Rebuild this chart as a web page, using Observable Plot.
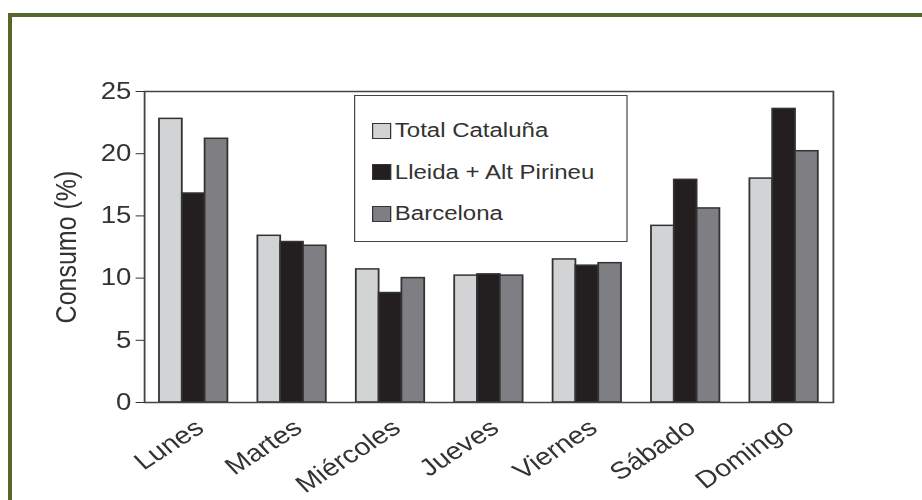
<!DOCTYPE html>
<html>
<head>
<meta charset="utf-8">
<script src="https://cdn.jsdelivr.net/npm/d3@7"></script>
<script src="https://cdn.jsdelivr.net/npm/@observablehq/plot@0.6"></script>
<style>
  html, body { margin: 0; padding: 0; background: #fff; }
  #wrap { position: relative; width: 922px; height: 500px; overflow: hidden; background: #fff; font-family: "Liberation Sans", Arial, sans-serif; }
  #frame { position: absolute; left: 8px; top: 13px; width: 940px; height: 520px; border-left: 4px solid #55672a; border-top: 4px solid #55672a; box-sizing: border-box; }
  /* the source figure is stretched horizontally; reproduce that with a uniform x scale */
  #stretch { position: absolute; left: 0; top: 0; width: 768px; height: 500px; transform: scaleX(1.2); transform-origin: 0 0; }
  #chart { position: absolute; left: 0; top: 0; }
  #legend { position: absolute; left: 295px; top: 95px; width: 228px; height: 147px; border: 1.5px solid #444; background: #fff; box-sizing: border-box; padding-top: 14px; padding-left: 14px; }
  .item { display: flex; align-items: center; height: 41.5px; font-size: 20px; color: #333; }
  .sw { width: 16px; height: 16px; border: 1.5px solid #333; box-sizing: border-box; margin-right: 3px; }
</style>
</head>
<body>
<div id="wrap">
  <div id="frame"></div>
  <div id="stretch">
    <div id="chart"></div>
    <div id="legend"></div>
  </div>
</div>
<script>
const days = ["Lunes", "Martes", "Miércoles", "Jueves", "Viernes", "Sábado", "Domingo"];
const series = ["Total Cataluña", "Lleida + Alt Pirineu", "Barcelona"];
const totalCataluna = [22.8, 13.4, 10.7, 10.2, 11.5, 14.2, 18.0];
const lleidaAltPirineu = [16.8, 12.9, 8.8, 10.3, 11.0, 17.9, 23.6];
const barcelona = [21.2, 12.6, 10.0, 10.2, 11.2, 15.6, 20.2];
const colors = ["#d2d3d5", "#231f20", "#7f7f83"];
const yTicks = [0, 5, 10, 15, 20, 25];
const yLabel = "Consumo (%)";

const valuesBySeries = [totalCataluna, lleidaAltPirineu, barcelona];
const data = [];
days.forEach((d, i) => series.forEach((s, k) => data.push({day: d, series: s, value: valuesBySeries[k][i]})));

const chart = Plot.plot({
  width: 768,
  height: 500,
  marginLeft: 117.5,
  marginRight: 71,
  marginTop: 91,
  marginBottom: 98,
  facet: {marginLeft: 0, marginRight: 0, marginTop: 0, marginBottom: 0},
  style: {fontFamily: "'Liberation Sans', Arial, sans-serif", fontSize: "23px", color: "#333", background: "transparent"},
  fx: {domain: days, paddingInner: 0, paddingOuter: 0, axis: null},
  x: {domain: series, paddingInner: 0, paddingOuter: 0.59, axis: null},
  y: {domain: [0, 25], axis: null},
  color: {domain: series, range: colors},
  marks: [
    Plot.barY(data, {fx: "day", x: "series", y: "value", fill: "series", stroke: "#333", strokeWidth: 1.5, insetLeft: 0, insetRight: 0}),
    Plot.axisFx({anchor: "bottom", label: null, tickRotate: -38, tickSize: 0, tickPadding: 22, fontSize: 24, dx: 5}),
    Plot.axisY({ticks: yTicks, tickSize: 7, tickPadding: 4, fontSize: 23, label: null}),
    Plot.axisY({ticks: [], label: yLabel, labelArrow: "none", labelAnchor: "center", labelOffset: 75, fontSize: 25, tickSize: 0}),
    Plot.frame({facet: "super", stroke: "#444", strokeWidth: 1.5})
  ]
});
document.getElementById("chart").appendChild(chart);

const legend = document.getElementById("legend");
series.forEach((s, k) => {
  const row = document.createElement("div");
  row.className = "item";
  const sw = document.createElement("span");
  sw.className = "sw";
  sw.style.background = colors[k];
  const t = document.createElement("span");
  t.textContent = s;
  row.appendChild(sw);
  row.appendChild(t);
  legend.appendChild(row);
});
</script>
</body>
</html>
